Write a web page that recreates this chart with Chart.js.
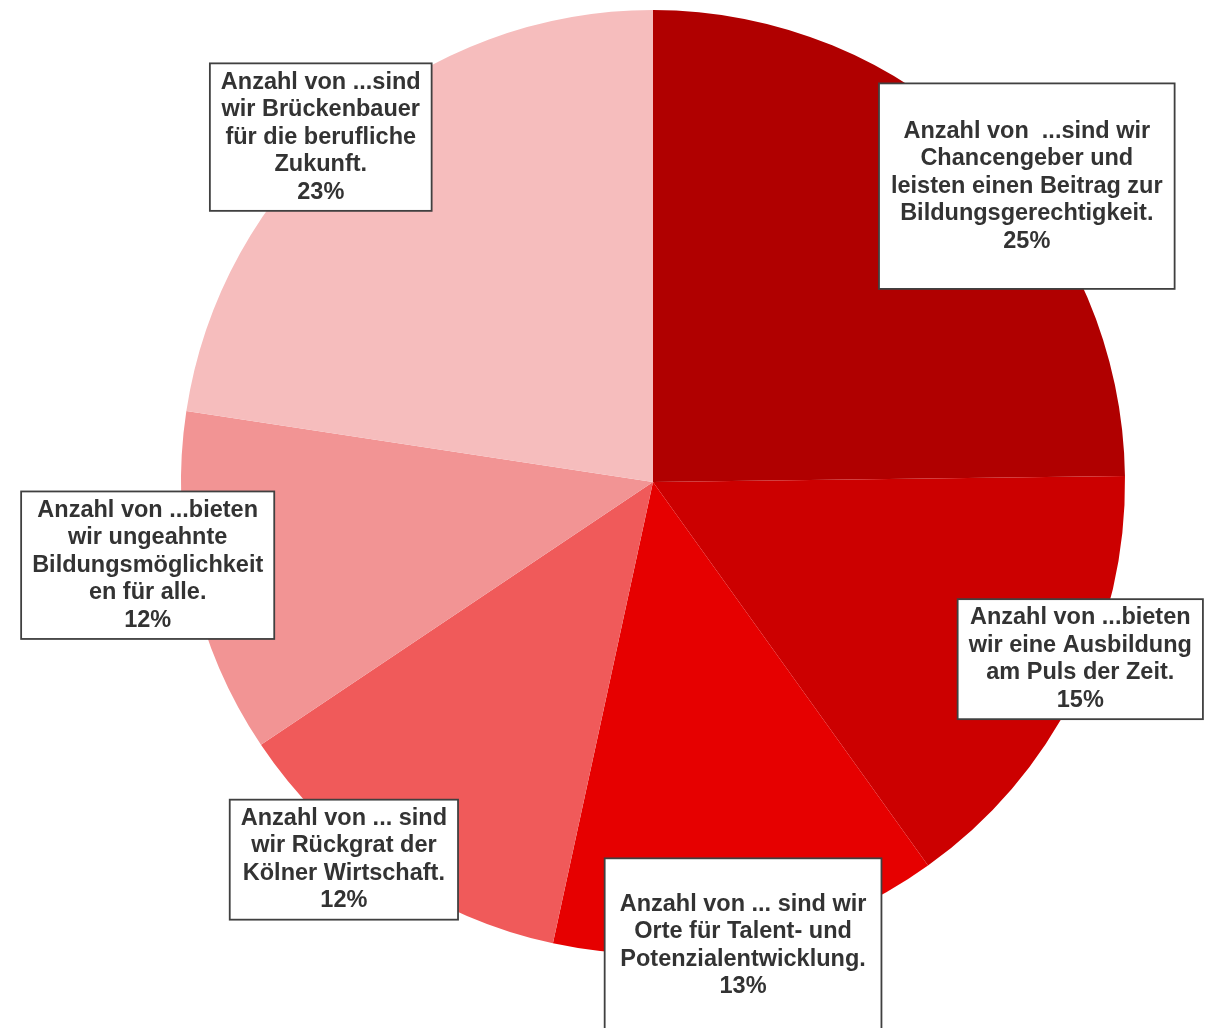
<!DOCTYPE html>
<html lang="de">
<head>
<meta charset="utf-8">
<title>Anzahl von ...</title>
<script src="https://cdn.jsdelivr.net/npm/chart.js@4"></script>
<style>
    html, body { margin: 0; padding: 0; background: #ffffff; }
    #wrap { width: 1219px; height: 1028px; }
</style>
</head>
<body>
<div id="wrap"><canvas id="graficoTorte"></canvas></div>
<script>
// Kategorien (Zeilen der Beschriftung) und Anteile in Prozent
const kategorien = [
    ["Anzahl von  ...sind wir", "Chancengeber und", "leisten einen Beitrag zur", "Bildungsgerechtigkeit."],
    ["Anzahl von ...bieten", "wir eine Ausbildung", "am Puls der Zeit."],
    ["Anzahl von ... sind wir", "Orte für Talent- und", "Potenzialentwicklung."],
    ["Anzahl von ... sind", "wir Rückgrat der", "Kölner Wirtschaft."],
    ["Anzahl von ...bieten", "wir ungeahnte", "Bildungsmöglichkeit", "en für alle."],
    ["Anzahl von ...sind", "wir Brückenbauer", "für die berufliche", "Zukunft."]
];
const anteile = [24.8, 15.3, 13.3, 12.2, 11.8, 22.6];
const farben = ["#b00000", "#cc0000", "#e60000", "#f05a5a", "#f29494", "#f6bdbd"];

// Lage der Beschriftungen: Winkelversatz (Grad) und Abstand relativ zum Radius
const labelVersatz = [7, -4.3, 0.7, 5.1, 3.25, -3.25];
const labelAbstand = [1.01, 0.98, 1.0, 1.034, 1.085, 1.0146];
const labelExtraPadY = [29, 0, 27, 0, 0, 0];
const labelExtraPadX = [1, 0, 4, 0, 0, 0];

const beschriftungPlugin = {
    id: "beschriftung",
    afterDatasetsDraw(chart) {
        const ctx = chart.ctx;
        const meta = chart.getDatasetMeta(0);
        const daten = chart.data.datasets[0].data;
        const summe = daten.reduce(function (a, b) { return a + b; }, 0);
        const zeilenHoehe = 27.5;

        ctx.save();
        ctx.font = "bold 23.5px Arial, 'Liberation Sans', sans-serif";
        ctx.textAlign = "center";
        ctx.textBaseline = "middle";

        meta.data.forEach(function (bogen, i) {
            const zeilen = kategorien[i].concat([Math.round(daten[i] / summe * 100) + "%"]);
            const mitte = (bogen.startAngle + bogen.endAngle) / 2 + labelVersatz[i] * Math.PI / 180;
            const r = bogen.outerRadius * labelAbstand[i];
            const cx = bogen.x + Math.cos(mitte) * r;
            const cy = bogen.y + Math.sin(mitte) * r;

            let breite = 0;
            zeilen.forEach(function (z) {
                breite = Math.max(breite, ctx.measureText(z).width);
            });
            const w = breite + 22 + labelExtraPadX[i] * 2;
            const h = zeilen.length * zeilenHoehe + 10 + labelExtraPadY[i] * 2;

            ctx.fillStyle = "#ffffff";
            ctx.fillRect(cx - w / 2, cy - h / 2, w, h);
            ctx.strokeStyle = "#404040";
            ctx.lineWidth = 1.8;
            ctx.strokeRect(cx - w / 2, cy - h / 2, w, h);

            ctx.fillStyle = "#333333";
            const start = cy - (zeilen.length - 1) * zeilenHoehe / 2;
            zeilen.forEach(function (z, k) {
                ctx.fillText(z, cx, start + k * zeilenHoehe);
            });
        });
        ctx.restore();
    }
};

new Chart(document.getElementById("graficoTorte"), {
    type: "pie",
    data: {
        labels: kategorien.map(function (k) { return k.join(" "); }),
        datasets: [{
            data: anteile,
            backgroundColor: farben,
            borderWidth: 0
        }]
    },
    options: {
        responsive: true,
        maintainAspectRatio: false,
        animation: false,
        layout: {
            padding: { top: 10, bottom: 74, left: 181, right: 94 }
        },
        plugins: {
            legend: { display: false },
            tooltip: { enabled: false }
        }
    },
    plugins: [beschriftungPlugin]
});
</script>
</body>
</html>
